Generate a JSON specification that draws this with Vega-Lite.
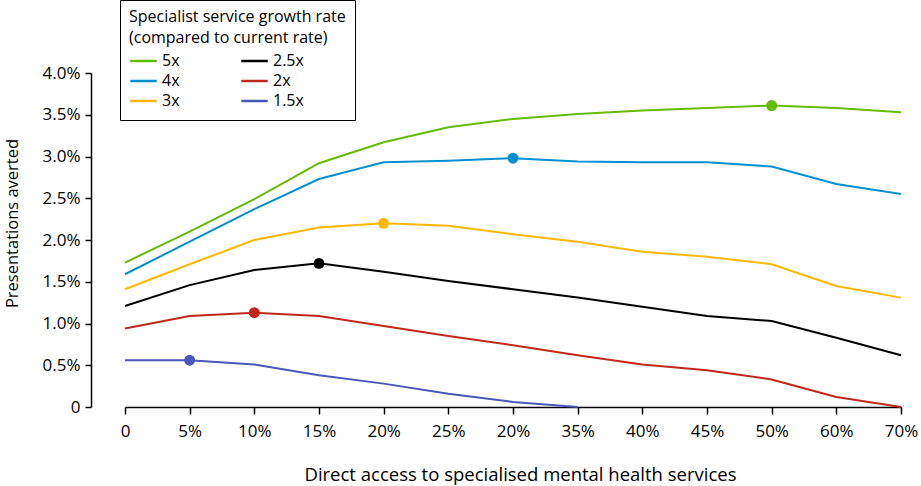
{
  "$schema": "https://vega.github.io/schema/vega-lite/v6.json",
  "description": "Presentations averted by direct access to specialised mental health services, by specialist service growth rate.",
  "width": 776,
  "height": 334,
  "autosize": {"type": "none"},
  "padding": {"left": 125, "top": 73, "right": 20, "bottom": 79},
  "background": "white",
  "config": {
    "view": {"stroke": null},
    "font": "Open Sans",
    "axis": {
      "grid": false,
      "domainColor": "black",
      "domainWidth": 1.5,
      "tickColor": "black",
      "tickWidth": 1.5,
      "tickSize": 7,
      "labelFont": "Open Sans",
      "labelFontSize": 17,
      "labelColor": "black",
      "labelFlush": false,
      "labelOverlap": false,
      "titleFont": "Open Sans",
      "titleFontWeight": "normal",
      "titleColor": "black"
    },
    "legend": {
      "titleFont": "Open Sans",
      "labelFont": "Open Sans"
    }
  },
  "data": {
    "values": [
      {"series": "5x", "step": 0, "averted": 1.73},
      {"series": "5x", "step": 1, "averted": 2.10},
      {"series": "5x", "step": 2, "averted": 2.49},
      {"series": "5x", "step": 3, "averted": 2.92},
      {"series": "5x", "step": 4, "averted": 3.17},
      {"series": "5x", "step": 5, "averted": 3.35},
      {"series": "5x", "step": 6, "averted": 3.45},
      {"series": "5x", "step": 7, "averted": 3.51},
      {"series": "5x", "step": 8, "averted": 3.55},
      {"series": "5x", "step": 9, "averted": 3.58},
      {"series": "5x", "step": 10, "averted": 3.61, "peak": true},
      {"series": "5x", "step": 11, "averted": 3.58},
      {"series": "5x", "step": 12, "averted": 3.53},
      {"series": "4x", "step": 0, "averted": 1.59},
      {"series": "4x", "step": 1, "averted": 1.98},
      {"series": "4x", "step": 2, "averted": 2.37},
      {"series": "4x", "step": 3, "averted": 2.73},
      {"series": "4x", "step": 4, "averted": 2.93},
      {"series": "4x", "step": 5, "averted": 2.95},
      {"series": "4x", "step": 6, "averted": 2.98, "peak": true},
      {"series": "4x", "step": 7, "averted": 2.94},
      {"series": "4x", "step": 8, "averted": 2.93},
      {"series": "4x", "step": 9, "averted": 2.93},
      {"series": "4x", "step": 10, "averted": 2.88},
      {"series": "4x", "step": 11, "averted": 2.67},
      {"series": "4x", "step": 12, "averted": 2.55},
      {"series": "3x", "step": 0, "averted": 1.41},
      {"series": "3x", "step": 1, "averted": 1.71},
      {"series": "3x", "step": 2, "averted": 2.00},
      {"series": "3x", "step": 3, "averted": 2.15},
      {"series": "3x", "step": 4, "averted": 2.20, "peak": true},
      {"series": "3x", "step": 5, "averted": 2.17},
      {"series": "3x", "step": 6, "averted": 2.07},
      {"series": "3x", "step": 7, "averted": 1.98},
      {"series": "3x", "step": 8, "averted": 1.86},
      {"series": "3x", "step": 9, "averted": 1.80},
      {"series": "3x", "step": 10, "averted": 1.71},
      {"series": "3x", "step": 11, "averted": 1.45},
      {"series": "3x", "step": 12, "averted": 1.31},
      {"series": "2.5x", "step": 0, "averted": 1.21},
      {"series": "2.5x", "step": 1, "averted": 1.46},
      {"series": "2.5x", "step": 2, "averted": 1.64},
      {"series": "2.5x", "step": 3, "averted": 1.72, "peak": true},
      {"series": "2.5x", "step": 4, "averted": 1.62},
      {"series": "2.5x", "step": 5, "averted": 1.51},
      {"series": "2.5x", "step": 6, "averted": 1.41},
      {"series": "2.5x", "step": 7, "averted": 1.31},
      {"series": "2.5x", "step": 8, "averted": 1.20},
      {"series": "2.5x", "step": 9, "averted": 1.09},
      {"series": "2.5x", "step": 10, "averted": 1.03},
      {"series": "2.5x", "step": 11, "averted": 0.83},
      {"series": "2.5x", "step": 12, "averted": 0.62},
      {"series": "2x", "step": 0, "averted": 0.94},
      {"series": "2x", "step": 1, "averted": 1.09},
      {"series": "2x", "step": 2, "averted": 1.13, "peak": true},
      {"series": "2x", "step": 3, "averted": 1.09},
      {"series": "2x", "step": 4, "averted": 0.97},
      {"series": "2x", "step": 5, "averted": 0.85},
      {"series": "2x", "step": 6, "averted": 0.74},
      {"series": "2x", "step": 7, "averted": 0.62},
      {"series": "2x", "step": 8, "averted": 0.51},
      {"series": "2x", "step": 9, "averted": 0.44},
      {"series": "2x", "step": 10, "averted": 0.33},
      {"series": "2x", "step": 11, "averted": 0.12},
      {"series": "2x", "step": 12, "averted": 0.0},
      {"series": "1.5x", "step": 0, "averted": 0.56},
      {"series": "1.5x", "step": 1, "averted": 0.56, "peak": true},
      {"series": "1.5x", "step": 2, "averted": 0.51},
      {"series": "1.5x", "step": 3, "averted": 0.38},
      {"series": "1.5x", "step": 4, "averted": 0.28},
      {"series": "1.5x", "step": 5, "averted": 0.16},
      {"series": "1.5x", "step": 6, "averted": 0.06},
      {"series": "1.5x", "step": 7, "averted": 0.0}
    ]
  },
  "encoding": {
    "x": {
      "field": "step",
      "type": "quantitative",
      "scale": {"domain": [0, 12], "nice": false, "zero": false},
      "title": "Direct access to specialised mental health services",
      "axis": {
        "values": [0, 1, 2, 3, 4, 5, 6, 7, 8, 9, 10, 11, 12],
        "labelExpr": "['0', '5%', '10%', '15%', '20%', '25%', '20%', '35%', '40%', '45%', '50%', '60%', '70%'][datum.value]",
        "labelPadding": 9,
        "titleFontSize": 18.5,
        "titleX": 395,
        "titleY": 73,
        "titleBaseline": "alphabetic",
        "titleAnchor": "middle"
      }
    },
    "y": {
      "field": "averted",
      "type": "quantitative",
      "scale": {"domain": [0, 4], "nice": false},
      "title": "Presentations averted",
      "axis": {
        "offset": 34,
        "values": [0, 0.5, 1, 1.5, 2, 2.5, 3, 3.5, 4],
        "labelExpr": "datum.value == 0 ? '0' : format(datum.value, '.1f') + '%'",
        "labelPadding": 5,
        "tickSize": 6,
        "titleFontSize": 16.5,
        "titleX": -79,
        "titleY": 150,
        "titleAngle": -90,
        "titleAlign": "center",
        "titleBaseline": "middle"
      }
    },
    "color": {
      "field": "series",
      "type": "nominal",
      "scale": {
        "domain": ["5x", "4x", "3x", "2.5x", "2x", "1.5x"],
        "range": ["#66bb00", "#0090cf", "#ffb800", "#000000", "#c0281c", "#4b57b8"]
      },
      "legend": {
        "title": ["Specialist service growth rate", "(compared to current rate)"],
        "orient": "none",
        "legendX": -5,
        "legendY": -73,
        "columns": 2,
        "columnPadding": 60,
        "rowPadding": 0,
        "clipHeight": 20,
        "symbolType": "stroke",
        "symbolSize": 700,
        "symbolStrokeWidth": 2.5,
        "labelFontSize": 16,
        "labelColor": "black",
        "labelOffset": 4,
        "labelLimit": 200,
        "titleFontSize": 16,
        "titleFontWeight": "normal",
        "titleColor": "black",
        "titleLineHeight": 21,
        "titleLimit": 400,
        "titlePadding": 5,
        "padding": 9,
        "strokeColor": "black",
        "fillColor": "white"
      }
    }
  },
  "layer": [
    {
      "mark": {"type": "line", "strokeWidth": 2}
    },
    {
      "transform": [{"filter": "datum.peak === true"}],
      "mark": {"type": "point", "filled": true, "opacity": 1, "size": 120}
    }
  ]
}
